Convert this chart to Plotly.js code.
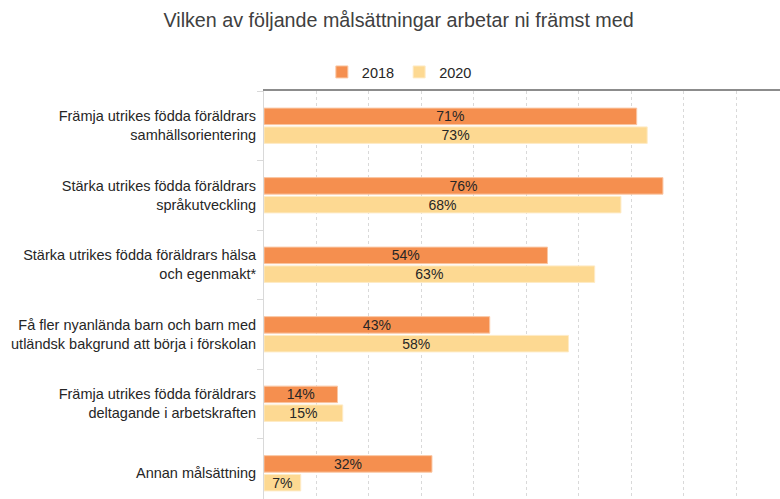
<!DOCTYPE html>
<html>
<head>
<meta charset="utf-8">
<script src="https://cdn.plot.ly/plotly-3.0.1.min.js"></script>
<style>html,body{margin:0;padding:0;background:#fff;}#chart{width:780px;height:499px;}</style>
</head>
<body>
<div id="chart"></div>
<script>
const categories = [
  "Främja utrikes födda föräldrars<br>samhällsorientering",
  "Stärka utrikes födda föräldrars<br>språkutveckling",
  "Stärka utrikes födda föräldrars hälsa<br>och egenmakt*",
  "Få fler nyanlända barn och barn med<br>utländsk bakgrund att börja i förskolan",
  "Främja utrikes födda föräldrars<br>deltagande i arbetskraften",
  "Annan målsättning"
];
const values2018 = [71, 76, 54, 43, 14, 32];
const values2020 = [73, 68, 63, 58, 15, 7];
const seriesNames = ["2018", "2020"];

const FONT = "Liberation Sans, Arial, sans-serif";

const traces = [
  {
    type: "bar", orientation: "h", name: seriesNames[0],
    y: categories, x: values2018,
    marker: {color: "#F58F4F", line: {color: "#FAC7A4", width: 1}},
    texttemplate: "%{x}%", textposition: "inside", insidetextanchor: "middle",
    constraintext: "none",
    textfont: {family: FONT, size: 14, color: "#262626"},
    hoverinfo: "skip"
  },
  {
    type: "bar", orientation: "h", name: seriesNames[1],
    y: categories, x: values2020,
    marker: {color: "#FDD992", line: {color: "#FEEBC6", width: 1}},
    texttemplate: "%{x}%", textposition: "inside", insidetextanchor: "middle",
    constraintext: "none",
    textfont: {family: FONT, size: 14, color: "#262626"},
    hoverinfo: "skip"
  }
];

const layout = {
  width: 780, height: 499,
  margin: {l: 264, r: 0, t: 91, b: 0, pad: 0},
  paper_bgcolor: "#ffffff", plot_bgcolor: "#ffffff",
  font: {family: FONT, size: 14, color: "#262626"},
  uniformtext: {mode: false},
  title: {
    text: "Vilken av följande målsättningar arbetar ni främst med",
    font: {family: FONT, size: 19.7, color: "#404040"},
    xref: "container", x: 0.511, xanchor: "center",
    yref: "container", y: 1 - 20/499, yanchor: "middle"
  },
  barmode: "group",
  bargap: 0.46,
  bargroupgap: 0.12,
  showlegend: true,
  legend: {
    orientation: "h",
    xref: "container", x: 0.512, xanchor: "center",
    yref: "container", y: 1 - 72/499, yanchor: "middle",
    font: {family: FONT, size: 14.5, color: "#262626"},
    itemwidth: 30, traceorder: "normal"
  },
  xaxis: {
    side: "top",
    range: [0, 98.3],
    dtick: 10,
    showticklabels: false,
    showgrid: true, gridcolor: "#d9d9d9", griddash: "dot", gridwidth: 1,
    zeroline: false,
    showline: true, linecolor: "#8c8c8c", linewidth: 2,
    ticks: "", fixedrange: true
  },
  yaxis: {
    type: "category",
    categoryorder: "array", categoryarray: categories,
    range: [5.37, -0.5],
    showline: true, linecolor: "#d9d9d9", linewidth: 1,
    ticks: "outside", tickson: "boundaries", ticklen: 6, tickcolor: "#d9d9d9",
    ticklabelstandoff: 4,
    showgrid: false, zeroline: false,
    tickfont: {family: FONT, size: 14.5, color: "#262626"},
    fixedrange: true
  }
};

Plotly.newPlot("chart", traces, layout, {displayModeBar: false, staticPlot: true});
</script>
</body>
</html>
